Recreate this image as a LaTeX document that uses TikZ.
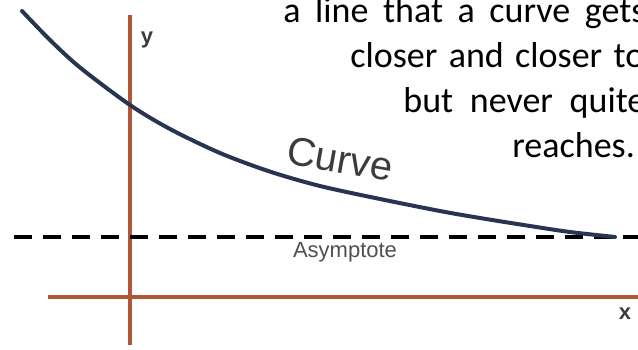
\documentclass[tikz,border=0pt]{standalone}
\usepackage{fontspec}
\setmainfont{Carlito}
\newfontfamily\labelfont{Liberation Sans}
\usepackage{xcolor}
\definecolor{axisbrown}{RGB}{178,86,58}
\definecolor{curvenavy}{RGB}{40,52,80}
\definecolor{labelgray}{RGB}{60,60,60}

\begin{document}
\begin{tikzpicture}[x=0.5pt,y=-0.5pt,
  axis/.style={axisbrown,line width=1.75pt},
  curveline/.style={curvenavy,line width=2pt,line cap=round},
  asymline/.style={black,line width=2.4pt,dash pattern=on 9pt off 5.5pt},
  axislabel/.style={labelgray,inner sep=0pt,font=\labelfont\bfseries\fontsize{11}{11}\selectfont},
  defline/.style={anchor=base west,inner sep=0pt,font=\fontsize{18}{22}\selectfont}]
\useasboundingbox (0,0) rectangle (638,349);
\clip (0,0) rectangle (638,349);
% axes
\draw[axis] (130,15) -- (130,345);
\draw[axis] (48,297) -- (638,297);
\node[axislabel] (ylab) at (147,40) {y};
\node[axislabel] (xlab) at (625,314) {x};
% asymptote
\draw[asymline] (14,237) -- (638,237);
\node[labelgray!90,inner sep=0pt,font=\labelfont\fontsize{11}{11}\selectfont] (asymlab) at (345,252) {Asymptote};
% the curve
\draw[curveline] plot[smooth] coordinates {(22,11) (50,40) (80,67.5) (130,105) (170,129) (220,153) (270,171.6) (320,186) (380,199) (440,211) (480,218) (530,226) (570,232) (615,237)};
\node[labelgray,rotate=-10,inner sep=0pt,font=\labelfont\fontsize{20}{20}\selectfont] (curvelab) at (340,159) {Curve};
% definition, cut off at the right
\node[defline] (line1) at (283,22) {\makebox[181pt][s]{a line that a curve gets}};
\node[defline] (line2) at (350,67) {\makebox[147pt][s]{closer and closer to}};
\node[defline] (line3) at (403,112) {\makebox[121pt][s]{but never quite}};
\node[defline] (line4) at (512,157) {reaches.};
\end{tikzpicture}
\end{document}
